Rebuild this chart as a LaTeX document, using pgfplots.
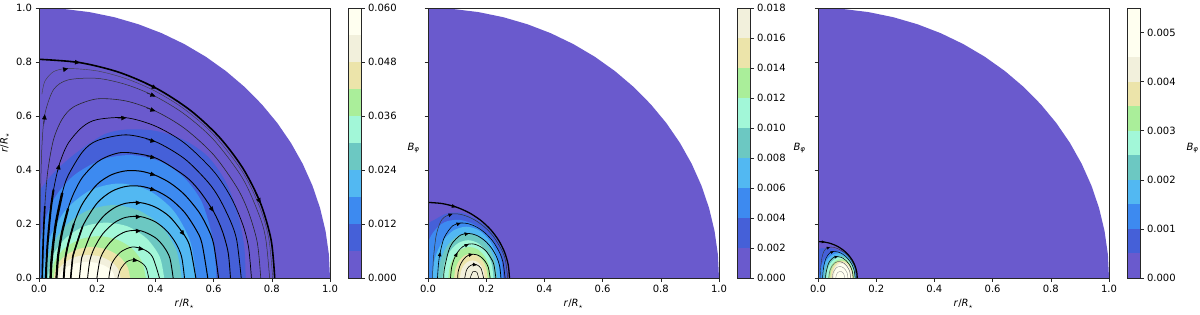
\documentclass[border=0pt]{standalone}
\usepackage{fontspec}
\setmainfont{DejaVu Sans}
\usepackage{pgfplots}
\pgfplotsset{compat=1.18}
\usetikzlibrary{arrows.meta}
\definecolor{c0}{HTML}{6A5ACD}
\definecolor{c1}{HTML}{4560D8}
\definecolor{c2}{HTML}{3D8AF0}
\definecolor{c3}{HTML}{52B8F2}
\definecolor{c4}{HTML}{6CC8C2}
\definecolor{c5}{HTML}{A2F7D8}
\definecolor{c6}{HTML}{AAEE9A}
\definecolor{c7}{HTML}{ECE4AA}
\definecolor{c8}{HTML}{F2F0DC}
\definecolor{c9}{HTML}{FFFFF0}
\pgfplotsset{
 fl/.style={smooth, draw=none, fill=#1, forget plot},
 ln/.style={black, smooth, no markers, line width=#1, forget plot},
 arA/.style={-{Triangle[length=5pt,width=4.5pt]}, black, line width=0.3pt, no markers, forget plot},
 arB/.style={-{Triangle[length=4pt,width=3.6pt]}, black, line width=0.3pt, no markers, forget plot},
 arC/.style={-{Triangle[length=3pt,width=2.7pt]}, black, line width=0.2pt, no markers, forget plot},
 every axis/.append style={font=\fontsize{10}{12}\selectfont},
 panel/.style={
  scale only axis, width=291pt, height=270pt,
  xmin=0, xmax=1, ymin=0, ymax=1, axis on top,
  axis line style={line width=0.6pt, black!85},
  every tick/.style={line width=0.6pt, black!85},
  tick align=outside, major tick length=3.5pt,
  xtick pos=bottom, ytick pos=left,
  xtick={0,0.2,0.4,0.6,0.8,1}, ytick={0,0.2,0.4,0.6,0.8,1},
  xticklabels={0.0,0.2,0.4,0.6,0.8,1.0},
  yticklabels={0.0,0.2,0.4,0.6,0.8,1.0},
  xlabel={\textit{r}/\textit{R}\textsubscript{$\star$}},
  anchor=south west},
 cbar/.style={
  scale only axis, width=13pt, height=270pt,
  xmin=0, xmax=1, ymin=0, ymax=#1, axis on top,
  axis line style={line width=0.6pt, black!85},
  every tick/.style={line width=0.6pt, black!85},
  tick align=outside, major tick length=3.5pt,
  xtick=\empty, ytick pos=right, yticklabel pos=right,
  anchor=south west},
}
\begin{document}
\begin{tikzpicture}
\useasboundingbox (0,0) rectangle (1200pt,314pt);
% ================= PANEL 1 =================
\begin{axis}[panel, at={(39pt,36pt)}, ylabel={\textit{r}/\textit{R}\textsubscript{$\star$}}]
\addplot[draw=none, fill=c0, forget plot] coordinates {(0,0) (1,0) (0.9962,0.0872) (0.9848,0.1736) (0.9659,0.2588) (0.9397,0.3420) (0.9063,0.4226) (0.8660,0.5) (0.8192,0.5736) (0.7660,0.6428) (0.7071,0.7071) (0.6428,0.7660) (0.5736,0.8192) (0.5,0.8660) (0.4226,0.9063) (0.3420,0.9397) (0.2588,0.9659) (0.1736,0.9848) (0.0872,0.9962) (0,1)};
\addplot[fl=c1] coordinates {(0.71,0) (0.705,0.12) (0.68,0.25) (0.64,0.36) (0.58,0.45) (0.50,0.51) (0.40,0.545) (0.30,0.55) (0.22,0.53) (0.124,0.46) (0.06,0.40) (0.02,0.35) (-0.03,0.27) (-0.06,0.12) (-0.07,0)};
\addplot[fl=c2] coordinates {(0.61,0) (0.598,0.14) (0.56,0.28) (0.50,0.37) (0.42,0.43) (0.32,0.455) (0.22,0.44) (0.12,0.38) (0.05,0.29) (0.01,0.17) (-0.01,0)};
\addplot[fl=c3] coordinates {(0.54,0) (0.52,0.134) (0.463,0.248) (0.377,0.324) (0.276,0.35) (0.175,0.324) (0.089,0.248) (0.032,0.134) (0.012,0)};
\addplot[fl=c4] coordinates {(0.49,0) (0.472,0.103) (0.421,0.191) (0.345,0.249) (0.255,0.27) (0.165,0.249) (0.089,0.191) (0.038,0.103) (0.02,0)};
\addplot[fl=c5] coordinates {(0.43,0) (0.415,0.078) (0.371,0.145) (0.307,0.19) (0.23,0.205) (0.153,0.19) (0.089,0.145) (0.045,0.078) (0.03,0)};
\addplot[fl=c6] coordinates {(0.367,0) (0.3545,0.059) (0.319,0.110) (0.266,0.143) (0.2035,0.155) (0.141,0.143) (0.088,0.110) (0.0525,0.059) (0.04,0)};
\addplot[fl=c7] coordinates {(0.313,0) (0.303,0.044) (0.2745,0.081) (0.232,0.106) (0.1815,0.115) (0.131,0.106) (0.0885,0.081) (0.060,0.044) (0.05,0)};
\addplot[fl=c8] coordinates {(0.28,0) (0.272,0.033) (0.248,0.060) (0.212,0.079) (0.17,0.085) (0.128,0.079) (0.092,0.060) (0.068,0.033) (0.06,0)};
\addplot[fl=c9] coordinates {(0.26,0) (0.253,0.023) (0.232,0.042) (0.201,0.055) (0.165,0.06) (0.129,0.055) (0.098,0.042) (0.077,0.023) (0.07,0)};
% streamlines
\addplot[ln=0.4pt, black!75] coordinates {(0.01,0.6807) (0.02,0.7283) (0.05,0.7642) (0.1,0.7757) (0.2,0.7669) (0.3,0.738) (0.4,0.6917) (0.5,0.6252) (0.6,0.5316) (0.7,0.3922) (0.76,0.2586) (0.79,0.1439) (0.803,0)};
\addplot[ln=0.5pt, black!80] coordinates {(0.0025,0) (0.003,0.0884) (0.005,0.297) (0.01,0.487) (0.02,0.6061) (0.05,0.6977) (0.1,0.7336) (0.2,0.7395) (0.3,0.7162) (0.4,0.6724) (0.5,0.6067) (0.6,0.5122) (0.7,0.3684) (0.76,0.2229) (0.78,0.139) (0.7925,0)};
\addplot[ln=0.6pt, black!85] coordinates {(0.0112,0) (0.012,0.0448) (0.015,0.1517) (0.02,0.2665) (0.03,0.3946) (0.05,0.5129) (0.08,0.5892) (0.12,0.6344) (0.2,0.6635) (0.3,0.6554) (0.4,0.6182) (0.5,0.5543) (0.6,0.4563) (0.68,0.3356) (0.72,0.2439) (0.75,0.1319) (0.762,0)};
\addplot[ln=0.7pt] coordinates {(0.0238,0) (0.025,0.0427) (0.03,0.1335) (0.04,0.251) (0.05,0.3273) (0.07,0.4213) (0.1,0.4984) (0.15,0.5601) (0.2,0.5868) (0.3,0.5935) (0.4,0.5626) (0.5,0.4996) (0.6,0.3955) (0.66,0.2983) (0.7,0.1985) (0.72,0.1149) (0.73,0)};
\addplot[ln=0.8pt] coordinates {(0.04,0) (0.042,0.0505) (0.05,0.1381) (0.06,0.214) (0.08,0.3153) (0.1,0.3792) (0.15,0.4678) (0.2,0.5089) (0.3,0.5302) (0.4,0.505) (0.5,0.4418) (0.58,0.3561) (0.62,0.2941) (0.66,0.2057) (0.68,0.1367) (0.695,0)};
\addplot[ln=0.9pt] coordinates {(0.06,0) (0.065,0.0747) (0.07,0.1126) (0.08,0.173) (0.1,0.2575) (0.12,0.3153) (0.15,0.3738) (0.2,0.4294) (0.25,0.4562) (0.3,0.465) (0.4,0.4448) (0.5,0.3792) (0.55,0.3247) (0.6,0.2456) (0.63,0.1737) (0.65,0.0943) (0.658,0)};
\addplot[ln=1pt] coordinates {(0.085,0) (0.09,0.068) (0.1,0.125) (0.12,0.2016) (0.15,0.276) (0.2,0.3471) (0.25,0.3828) (0.3,0.3971) (0.35,0.3955) (0.4,0.3805) (0.45,0.3524) (0.5,0.309) (0.55,0.2435) (0.58,0.1847) (0.6,0.1265) (0.617,0)};
\addplot[ln=1pt] coordinates {(0.109,0) (0.115,0.0678) (0.12,0.094) (0.15,0.1916) (0.2,0.2777) (0.25,0.3209) (0.3,0.3394) (0.35,0.3398) (0.4,0.3248) (0.45,0.294) (0.5,0.2434) (0.54,0.1784) (0.56,0.128) (0.58,0)};
\addplot[ln=1pt] coordinates {(0.139,0) (0.145,0.0625) (0.15,0.085) (0.18,0.1667) (0.22,0.227) (0.26,0.2607) (0.3,0.2771) (0.35,0.2789) (0.4,0.2624) (0.45,0.2259) (0.5,0.1578) (0.52,0.1109) (0.539,0)};
\addplot[ln=0.9pt] coordinates {(0.167,0) (0.175,0.0654) (0.19,0.1109) (0.22,0.1648) (0.26,0.2055) (0.3,0.225) (0.35,0.2272) (0.4,0.2079) (0.44,0.1733) (0.47,0.1292) (0.49,0.0787) (0.5,0)};
\addplot[ln=0.9pt] coordinates {(0.199,0) (0.21,0.0698) (0.23,0.1122) (0.26,0.1485) (0.3,0.1724) (0.35,0.1748) (0.4,0.1491) (0.43,0.1142) (0.45,0.0726) (0.461,0)};
\addplot[ln=0.8pt] coordinates {(0.24,0) (0.25,0.0532) (0.28,0.0957) (0.32,0.1146) (0.36,0.1057) (0.39,0.0784) (0.414,0)};
\addplot[ln=0.7pt] coordinates {(0.271,0) (0.28,0.0318) (0.3,0.0593) (0.32,0.0673) (0.34,0.0641) (0.36,0.05) (0.37,0.033) (0.377,0)};
% thick legs
\addplot[ln=1.6pt] coordinates {(0.0112,0) (0.012,0.0448) (0.015,0.1517) (0.02,0.2665)};
\addplot[ln=2pt] coordinates {(0.0238,0) (0.025,0.0427) (0.03,0.1335) (0.04,0.251) (0.05,0.3273)};
\addplot[ln=2.4pt] coordinates {(0.04,0) (0.042,0.0505) (0.05,0.1381) (0.06,0.214) (0.08,0.3153)};
\addplot[ln=2.2pt] coordinates {(0.06,0) (0.065,0.0747) (0.07,0.1126) (0.08,0.173) (0.1,0.2575)};
\addplot[ln=1.8pt] coordinates {(0.085,0) (0.09,0.068) (0.1,0.125) (0.12,0.2016)};
\addplot[ln=1.5pt] coordinates {(0.109,0) (0.115,0.0678) (0.12,0.094) (0.15,0.1916)};
% separatrix
\addplot[ln=1.6pt] coordinates {(0,0.81) (0.1407,0.7977) (0.2770,0.7612) (0.405,0.7015) (0.5207,0.6205) (0.6205,0.5207) (0.7015,0.405) (0.7612,0.2770) (0.7977,0.1407) (0.81,0)};
% arrows
\addplot[arA] coordinates {(0.085,0.7722) (0.1,0.7757)};
\addplot[arA] coordinates {(0.37,0.6855) (0.4,0.6724)};
\addplot[arA] coordinates {(0.017,0.5704) (0.02,0.6061)};
\addplot[arA] coordinates {(0.37,0.6294) (0.4,0.6182)};
\addplot[arA] coordinates {(0.27,0.5915) (0.3,0.5935)};
\addplot[arA] coordinates {(0.064,0.3931) (0.07,0.4213)};
\addplot[arA] coordinates {(0.37,0.5126) (0.4,0.505)};
\addplot[arA] coordinates {(0.37,0.4509) (0.4,0.4448)};
\addplot[arA] coordinates {(0.585,0.2693) (0.6,0.2456)};
\addplot[arA] coordinates {(0.385,0.385) (0.4,0.3805)};
\addplot[arA] coordinates {(0.385,0.3293) (0.4,0.3248)};
\addplot[arA] coordinates {(0.335,0.2784) (0.35,0.2789)};
\addplot[arA] coordinates {(0.485,0.1782) (0.5,0.1578)};
\addplot[arA] coordinates {(0.335,0.2265) (0.35,0.2272)};
\addplot[arA] coordinates {(0.335,0.1741) (0.35,0.1748)};
\addplot[arA] coordinates {(0.348,0.1084) (0.36,0.1057)};
\addplot[arA] coordinates {(0.334,0.0651) (0.34,0.0641)};
\addplot[arA] coordinates {(0.0985,0.8014) (0.1407,0.7977)};
\addplot[arA] coordinates {(0.3666,0.7194) (0.405,0.7015)};
\addplot[arA] coordinates {(0.7433,0.3154) (0.7612,0.277)};
\end{axis}
\begin{axis}[cbar=0.06, at={(348pt,36pt)}, ytick={0,0.012,0.024,0.036,0.048,0.06}, yticklabels={0.000,0.012,0.024,0.036,0.048,0.060}]
\addplot[draw=none, fill=c0] coordinates {(0,0) (1,0) (1,0.006) (0,0.006)};
\addplot[draw=none, fill=c1] coordinates {(0,0.006) (1,0.006) (1,0.012) (0,0.012)};
\addplot[draw=none, fill=c2] coordinates {(0,0.012) (1,0.012) (1,0.018) (0,0.018)};
\addplot[draw=none, fill=c3] coordinates {(0,0.018) (1,0.018) (1,0.024) (0,0.024)};
\addplot[draw=none, fill=c4] coordinates {(0,0.024) (1,0.024) (1,0.030) (0,0.030)};
\addplot[draw=none, fill=c5] coordinates {(0,0.030) (1,0.030) (1,0.036) (0,0.036)};
\addplot[draw=none, fill=c6] coordinates {(0,0.036) (1,0.036) (1,0.042) (0,0.042)};
\addplot[draw=none, fill=c7] coordinates {(0,0.042) (1,0.042) (1,0.048) (0,0.048)};
\addplot[draw=none, fill=c8] coordinates {(0,0.048) (1,0.048) (1,0.054) (0,0.054)};
\addplot[draw=none, fill=c9] coordinates {(0,0.054) (1,0.054) (1,0.060) (0,0.060)};
\end{axis}
\node[anchor=west, font=\fontsize{10}{12}\selectfont] at (404pt,166pt) {\textit{B}\textsubscript{\textit{φ}}};
% ================= PANEL 2 =================
\begin{axis}[panel, at={(428pt,36pt)}, yticklabels={}]
\addplot[draw=none, fill=c0, forget plot] coordinates {(0,0) (1,0) (0.9962,0.0872) (0.9848,0.1736) (0.9659,0.2588) (0.9397,0.3420) (0.9063,0.4226) (0.8660,0.5) (0.8192,0.5736) (0.7660,0.6428) (0.7071,0.7071) (0.6428,0.7660) (0.5736,0.8192) (0.5,0.8660) (0.4226,0.9063) (0.3420,0.9397) (0.2588,0.9659) (0.1736,0.9848) (0.0872,0.9962) (0,1)};
\addplot[fl=c1] coordinates {(0.272,0) (0.27,0.05) (0.26,0.095) (0.24,0.14) (0.21,0.18) (0.17,0.215) (0.12,0.24) (0.07,0.24) (0.03,0.22) (-0.01,0.18) (-0.03,0)};
\addplot[fl=c2] coordinates {(0.258,0) (0.255,0.05) (0.245,0.095) (0.225,0.135) (0.195,0.17) (0.155,0.2) (0.11,0.215) (0.065,0.21) (0.03,0.185) (0.0,0.13) (-0.015,0)};
\addplot[fl=c3] coordinates {(0.248,0) (0.2391,0.0727) (0.2139,0.1343) (0.1761,0.1756) (0.1315,0.19) (0.0869,0.1756) (0.0491,0.1343) (0.0239,0.0727) (0.015,0)};
\addplot[fl=c4] coordinates {(0.237,0) (0.2293,0.0632) (0.2074,0.1167) (0.1747,0.1525) (0.136,0.165) (0.0973,0.1525) (0.0646,0.1167) (0.0427,0.0632) (0.035,0)};
\addplot[fl=c5] coordinates {(0.225,0) (0.2184,0.0536) (0.1994,0.099) (0.171,0.1294) (0.1375,0.14) (0.104,0.1294) (0.0756,0.099) (0.0566,0.0536) (0.05,0)};
\addplot[fl=c6] coordinates {(0.215,0) (0.2095,0.044) (0.1938,0.0813) (0.1703,0.1063) (0.1425,0.115) (0.1147,0.1063) (0.0912,0.0813) (0.0755,0.044) (0.07,0)};
\addplot[fl=c7] coordinates {(0.205,0) (0.2006,0.0345) (0.1882,0.0636) (0.1695,0.0832) (0.1475,0.09) (0.1255,0.0832) (0.1068,0.0636) (0.0944,0.0345) (0.09,0)};
\addplot[fl=c8] coordinates {(0.195,0) (0.1918,0.0249) (0.1826,0.046) (0.1688,0.06) (0.1525,0.065) (0.1362,0.06) (0.1225,0.046) (0.1132,0.0249) (0.11,0)};
\addplot[ln=0.5pt, black!80] coordinates {(0.0154,0) (0.0168,0.0375) (0.0196,0.0834) (0.028,0.1569) (0.042,0.2055) (0.056,0.2253) (0.084,0.2377) (0.112,0.2357) (0.14,0.226) (0.168,0.21) (0.196,0.1871) (0.224,0.1551) (0.252,0.1065) (0.266,0.0658) (0.2741,0)};
\addplot[ln=0.6pt] coordinates {(0.0325,0) (0.0364,0.0567) (0.042,0.0955) (0.056,0.1502) (0.084,0.1928) (0.112,0.2037) (0.14,0.2007) (0.168,0.1883) (0.196,0.1669) (0.224,0.1343) (0.2464,0.0931) (0.2576,0.0593) (0.2649,0)};
\addplot[ln=0.7pt] coordinates {(0.054,0) (0.056,0.0321) (0.07,0.0974) (0.084,0.1298) (0.112,0.159) (0.14,0.1652) (0.168,0.1574) (0.196,0.1376) (0.2184,0.1108) (0.2352,0.0793) (0.2464,0.043) (0.2506,0)};
\addplot[ln=0.7pt] coordinates {(0.0773,0) (0.0812,0.0396) (0.0896,0.0701) (0.1008,0.0941) (0.1176,0.1147) (0.14,0.1259) (0.1624,0.1247) (0.1848,0.1131) (0.2016,0.0967) (0.2184,0.0699) (0.2268,0.0479) (0.2332,0)};
\addplot[ln=0.7pt] coordinates {(0.1019,0) (0.1036,0.0227) (0.112,0.0515) (0.126,0.0738) (0.14,0.0847) (0.154,0.0882) (0.168,0.086) (0.182,0.0778) (0.196,0.0623) (0.2072,0.0398) (0.2134,0)};
\addplot[ln=0.6pt] coordinates {(0.1263,0) (0.1316,0.0273) (0.14,0.0414) (0.154,0.0501) (0.168,0.0486) (0.182,0.036) (0.1912,0)};
\addplot[ln=0.5pt] coordinates {(0.1448,0) (0.154,0.0232) (0.1624,0.0242) (0.168,0.0213) (0.1742,0)};
\addplot[ln=1.3pt] coordinates {(0,0.28) (0.0486,0.2757) (0.0958,0.2631) (0.14,0.2425) (0.18,0.2145) (0.2145,0.18) (0.2425,0.14) (0.2631,0.0958) (0.2757,0.0486) (0.28,0)};
\addplot[arB] coordinates {(0.0756,0.234) (0.084,0.2377)};
\addplot[arB] coordinates {(0.1036,0.2004) (0.112,0.2037)};
\addplot[arB] coordinates {(0.0403,0.0839) (0.042,0.0955)};
\addplot[arB] coordinates {(0.1316,0.1633) (0.14,0.1652)};
\addplot[arB] coordinates {(0.1333,0.1225) (0.14,0.1259)};
\addplot[arB] coordinates {(0.0974,0.0869) (0.1008,0.0941)};
\addplot[arB] coordinates {(0.1498,0.0872) (0.154,0.0882)};
\addplot[arB] coordinates {(0.1638,0.049) (0.168,0.0486)};
\addplot[arB] coordinates {(0.0816,0.2669) (0.0958,0.2631)};
\end{axis}
\begin{axis}[cbar=0.018, at={(737pt,36pt)}, ytick={0,0.002,0.004,0.006,0.008,0.010,0.012,0.014,0.016,0.018}, yticklabels={0.000,0.002,0.004,0.006,0.008,0.010,0.012,0.014,0.016,0.018}]
\addplot[draw=none, fill=c0] coordinates {(0,0) (1,0) (1,0.002) (0,0.002)};
\addplot[draw=none, fill=c1] coordinates {(0,0.002) (1,0.002) (1,0.004) (0,0.004)};
\addplot[draw=none, fill=c2] coordinates {(0,0.004) (1,0.004) (1,0.006) (0,0.006)};
\addplot[draw=none, fill=c3] coordinates {(0,0.006) (1,0.006) (1,0.008) (0,0.008)};
\addplot[draw=none, fill=c4] coordinates {(0,0.008) (1,0.008) (1,0.010) (0,0.010)};
\addplot[draw=none, fill=c5] coordinates {(0,0.010) (1,0.010) (1,0.012) (0,0.012)};
\addplot[draw=none, fill=c6] coordinates {(0,0.012) (1,0.012) (1,0.014) (0,0.014)};
\addplot[draw=none, fill=c7] coordinates {(0,0.014) (1,0.014) (1,0.016) (0,0.016)};
\addplot[draw=none, fill=c8] coordinates {(0,0.016) (1,0.016) (1,0.018) (0,0.018)};
\end{axis}
\node[anchor=west, font=\fontsize{10}{12}\selectfont] at (790pt,166pt) {\textit{B}\textsubscript{\textit{φ}}};
% ================= PANEL 3 =================
\begin{axis}[panel, at={(818pt,36pt)}, yticklabels={}]
\addplot[draw=none, fill=c0, forget plot] coordinates {(0,0) (1,0) (0.9962,0.0872) (0.9848,0.1736) (0.9659,0.2588) (0.9397,0.3420) (0.9063,0.4226) (0.8660,0.5) (0.8192,0.5736) (0.7660,0.6428) (0.7071,0.7071) (0.6428,0.7660) (0.5736,0.8192) (0.5,0.8660) (0.4226,0.9063) (0.3420,0.9397) (0.2588,0.9659) (0.1736,0.9848) (0.0872,0.9962) (0,1)};
\addplot[fl=c1] coordinates {(0.134,0) (0.132,0.03) (0.122,0.054) (0.108,0.078) (0.085,0.097) (0.055,0.108) (0.025,0.11) (0.0,0.1) (-0.015,0)};
\addplot[fl=c2] coordinates {(0.132,0) (0.1271,0.0383) (0.1133,0.0707) (0.0925,0.0924) (0.068,0.1) (0.0435,0.0924) (0.0227,0.0707) (0.0089,0.0383) (0.004,0)};
\addplot[fl=c3] coordinates {(0.13,0) (0.1255,0.0352) (0.1127,0.065) (0.0936,0.085) (0.071,0.092) (0.0484,0.085) (0.0293,0.065) (0.0165,0.0352) (0.012,0)};
\addplot[fl=c4] coordinates {(0.128,0) (0.1239,0.0322) (0.1122,0.0594) (0.0947,0.0776) (0.074,0.084) (0.0533,0.0776) (0.0358,0.0594) (0.0241,0.0322) (0.02,0)};
\addplot[fl=c5] coordinates {(0.126,0) (0.1223,0.0295) (0.1116,0.0544) (0.0958,0.0711) (0.077,0.077) (0.0582,0.0711) (0.0424,0.0544) (0.0317,0.0295) (0.028,0)};
\addplot[fl=c6] coordinates {(0.124,0) (0.1206,0.0268) (0.111,0.0495) (0.0965,0.0647) (0.0795,0.07) (0.0625,0.0647) (0.048,0.0495) (0.0384,0.0268) (0.035,0)};
\addplot[fl=c7] coordinates {(0.121,0) (0.118,0.0245) (0.1094,0.0452) (0.0966,0.0591) (0.0815,0.064) (0.0664,0.0591) (0.0536,0.0452) (0.045,0.0245) (0.042,0)};
\addplot[fl=c8] coordinates {(0.118,0) (0.1153,0.0226) (0.1077,0.0417) (0.0964,0.0545) (0.083,0.059) (0.0696,0.0545) (0.0583,0.0417) (0.0507,0.0226) (0.048,0)};
\addplot[fl=c9] coordinates {(0.115,0) (0.1127,0.0207) (0.1062,0.0382) (0.0965,0.0499) (0.085,0.054) (0.0735,0.0499) (0.0638,0.0382) (0.0573,0.0207) (0.055,0)};
\addplot[ln=0.4pt, black!80] coordinates {(0.0074,0) (0.0081,0.0181) (0.0095,0.0402) (0.0135,0.0756) (0.0203,0.0991) (0.027,0.1086) (0.0405,0.1146) (0.054,0.1137) (0.0675,0.109) (0.081,0.1013) (0.0945,0.0902) (0.108,0.0748) (0.1215,0.0513) (0.1283,0.0317) (0.1322,0)};
\addplot[ln=0.5pt] coordinates {(0.0157,0) (0.0176,0.0273) (0.0203,0.046) (0.027,0.0724) (0.0405,0.093) (0.054,0.0982) (0.0675,0.0968) (0.081,0.0908) (0.0945,0.0805) (0.108,0.0647) (0.1188,0.0449) (0.1242,0.0286) (0.1277,0)};
\addplot[ln=0.5pt] coordinates {(0.0261,0) (0.027,0.0155) (0.0338,0.047) (0.0405,0.0626) (0.054,0.0767) (0.0675,0.0796) (0.081,0.0759) (0.0945,0.0663) (0.1053,0.0534) (0.1134,0.0382) (0.1188,0.0207) (0.1208,0)};
\addplot[ln=0.5pt, black!60] coordinates {(0.0373,0) (0.0392,0.0191) (0.0432,0.0338) (0.0486,0.0454) (0.0567,0.0553) (0.0675,0.0607) (0.0783,0.0601) (0.0891,0.0545) (0.0972,0.0466) (0.1053,0.0337) (0.1094,0.0231) (0.1125,0)};
\addplot[ln=0.4pt, black!45] coordinates {(0.0491,0) (0.05,0.011) (0.054,0.0248) (0.0608,0.0356) (0.0675,0.0408) (0.0743,0.0425) (0.081,0.0415) (0.0878,0.0375) (0.0945,0.03) (0.0999,0.0192) (0.1029,0)};
\addplot[ln=0.4pt, black!40] coordinates {(0.0609,0) (0.0635,0.0132) (0.0675,0.02) (0.0743,0.0242) (0.081,0.0234) (0.0878,0.0173) (0.0922,0)};
\addplot[ln=1.2pt] coordinates {(0,0.135) (0.0234,0.1329) (0.0462,0.1269) (0.0675,0.1169) (0.0868,0.1034) (0.1034,0.0868) (0.1169,0.0675) (0.1269,0.0462) (0.1329,0.0234) (0.135,0)};
\addplot[arC] coordinates {(0.0365,0.1128) (0.0405,0.1146)};
\addplot[arC] coordinates {(0.05,0.0966) (0.054,0.0982)};
\addplot[arC] coordinates {(0.0635,0.0787) (0.0675,0.0796)};
\addplot[arC] coordinates {(0.0164,0.1335) (0.0234,0.1329)};
\end{axis}
\begin{axis}[cbar=0.0055, at={(1127pt,36pt)}, ytick={0,0.001,0.002,0.003,0.004,0.005}, yticklabels={0.000,0.001,0.002,0.003,0.004,0.005}]
\addplot[draw=none, fill=c0] coordinates {(0,0) (1,0) (1,0.0005) (0,0.0005)};
\addplot[draw=none, fill=c1] coordinates {(0,0.0005) (1,0.0005) (1,0.001) (0,0.001)};
\addplot[draw=none, fill=c2] coordinates {(0,0.001) (1,0.001) (1,0.0015) (0,0.0015)};
\addplot[draw=none, fill=c3] coordinates {(0,0.0015) (1,0.0015) (1,0.002) (0,0.002)};
\addplot[draw=none, fill=c4] coordinates {(0,0.002) (1,0.002) (1,0.0025) (0,0.0025)};
\addplot[draw=none, fill=c5] coordinates {(0,0.0025) (1,0.0025) (1,0.003) (0,0.003)};
\addplot[draw=none, fill=c6] coordinates {(0,0.003) (1,0.003) (1,0.0035) (0,0.0035)};
\addplot[draw=none, fill=c7] coordinates {(0,0.0035) (1,0.0035) (1,0.004) (0,0.004)};
\addplot[draw=none, fill=c8] coordinates {(0,0.004) (1,0.004) (1,0.0045) (0,0.0045)};
\addplot[draw=none, fill=c9] coordinates {(0,0.0045) (1,0.0045) (1,0.0055) (0,0.0055)};
\end{axis}
\node[anchor=west, font=\fontsize{10}{12}\selectfont] at (1183pt,166pt) {\textit{B}\textsubscript{\textit{φ}}};
\end{tikzpicture}
\end{document}
